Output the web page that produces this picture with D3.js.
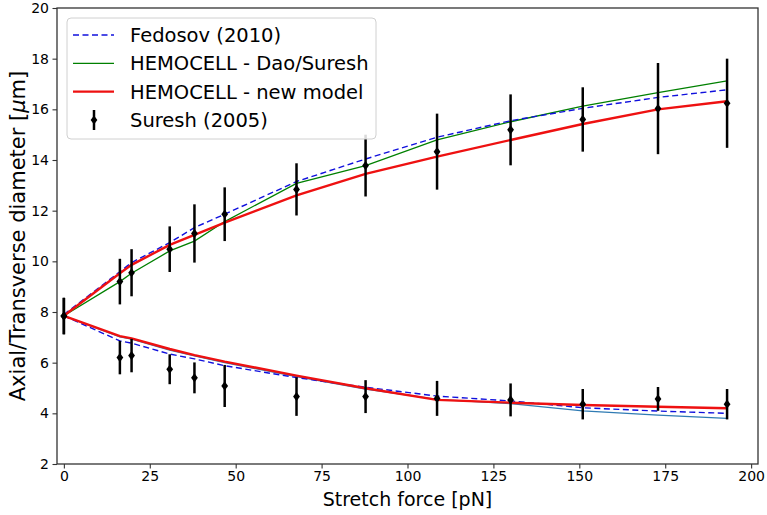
<!DOCTYPE html>
<html><head><meta charset="utf-8">
<script src="https://cdn.jsdelivr.net/npm/d3@7"></script>
<style>body{margin:0;background:#fff}svg{display:block}text{font-family:"DejaVu Sans",sans-serif;fill:#000}</style>
</head><body><svg id="c" width="767" height="515"></svg>
<script>
// Data
const forces = [0, 16.3, 19.7, 30.8, 38, 46.8, 67.7, 87.8, 108.6, 130, 151, 172.9, 193];
const sureshAxial = [7.84, 9.2, 9.55, 10.48, 11.1, 11.86, 12.84, 13.78, 14.33, 15.19, 15.6, 16.03, 16.24];
const sureshAxialErr = [0.72, 0.9, 0.93, 0.9, 1.15, 1.06, 1.03, 1.22, 1.5, 1.4, 1.27, 1.8, 1.76];
const sureshTrans = [7.84, 6.2, 6.28, 5.74, 5.4, 5.08, 4.66, 4.66, 4.59, 4.53, 4.36, 4.57, 4.36];
const sureshTransErr = [0.72, 0.66, 0.66, 0.59, 0.61, 0.83, 0.76, 0.65, 0.69, 0.65, 0.6, 0.47, 0.6];
const fedosovAxial = [7.9, 9.59, 9.95, 10.74, 11.33, 11.86, 13.15, 14.04, 14.9, 15.55, 16.04, 16.47, 16.77];
const fedosovTrans = [7.85, 6.86, 6.77, 6.34, 6.15, 5.88, 5.41, 5.03, 4.68, 4.49, 4.22, 4.09, 4.0];
const daoAxial = [7.85, 9.2, 9.53, 10.41, 10.8, 11.57, 13.08, 13.78, 14.79, 15.51, 16.13, 16.66, 17.12];
const daoTrans = [7.85, 7.02, 6.93, 6.5, 6.27, 6.0, 5.45, 4.96, 4.55, 4.38, 4.1, 3.93, 3.8];
const newAxial = [7.85, 9.53, 9.86, 10.65, 11.04, 11.53, 12.6, 13.45, 14.13, 14.79, 15.42, 16.0, 16.32];
const newTrans = [7.85, 7.05, 6.96, 6.54, 6.3, 6.04, 5.49, 4.99, 4.53, 4.42, 4.33, 4.26, 4.2];
const xTicks = [0, 25, 50, 75, 100, 125, 150, 175, 200];
const yTicks = [2, 4, 6, 8, 10, 12, 14, 16, 18, 20];
const legendLabels = ["Fedosov (2010)", "HEMOCELL - Dao/Suresh", "HEMOCELL - new model", "Suresh (2005)"];

const svg = d3.select("#c");
const m = {l: 57, t: 8, r: 9, b: 51};
const W = 767, H = 515;
const x = d3.scaleLinear().domain([-2, 202]).range([m.l, W - m.r]);
const y = d3.scaleLinear().domain([2, 20]).range([H - m.b, m.t]);
const axisColor = "#333";

const line = d3.line().x(d => x(d[0])).y(d => y(d[1]));
const zip = (a) => forces.map((f, i) => [f, a[i]]);

const g = svg.append("g");
const BLUE = "#1010dd", RED = "#ee1111";
g.append("path").datum(zip(daoAxial)).attr("d", line).attr("fill", "none").attr("stroke", "#008000").attr("stroke-width", 1.3);
g.append("path").datum(zip(daoTrans)).attr("d", line).attr("fill", "none").attr("stroke", "#2f7bb3").attr("stroke-width", 1.3);
g.append("path").datum(zip(fedosovAxial)).attr("d", line).attr("fill", "none").attr("stroke", BLUE).attr("stroke-width", 1.4).attr("stroke-dasharray", "6,3.5");
g.append("path").datum(zip(fedosovTrans)).attr("d", line).attr("fill", "none").attr("stroke", BLUE).attr("stroke-width", 1.4).attr("stroke-dasharray", "6,3.5");
g.append("path").datum(zip(newAxial)).attr("d", line).attr("fill", "none").attr("stroke", RED).attr("stroke-width", 2.4);
g.append("path").datum(zip(newTrans)).attr("d", line).attr("fill", "none").attr("stroke", RED).attr("stroke-width", 2.4);

const diamond = (cx, cy) => `M${cx},${cy-4.6}L${cx+3.4},${cy}L${cx},${cy+4.6}L${cx-3.4},${cy}Z`;
function errs(vals, errv) {
  const eg = g.append("g");
  eg.selectAll("line").data(forces).join("line")
    .attr("x1", d => x(d)).attr("x2", d => x(d))
    .attr("y1", (d, i) => y(vals[i] - errv[i])).attr("y2", (d, i) => y(vals[i] + errv[i]))
    .attr("stroke", "#000").attr("stroke-width", 2.5);
  eg.selectAll("path").data(forces).join("path")
    .attr("d", (d, i) => diamond(x(d), y(vals[i]))).attr("fill", "#000");
}
errs(sureshAxial, sureshAxialErr);
errs(sureshTrans, sureshTransErr);

svg.append("rect").attr("x", m.l).attr("y", m.t).attr("width", W - m.l - m.r).attr("height", H - m.t - m.b)
  .attr("fill", "none").attr("stroke", axisColor).attr("stroke-width", 1.3);

const xAxis = svg.append("g").attr("transform", `translate(0,${H - m.b})`)
  .call(d3.axisBottom(x).tickValues(xTicks).tickSize(4.5).tickPadding(3).tickSizeOuter(0));
const yAxis = svg.append("g").attr("transform", `translate(${m.l},0)`)
  .call(d3.axisLeft(y).tickValues(yTicks).tickSize(4.5).tickPadding(3.5).tickSizeOuter(0));
[xAxis, yAxis].forEach(a => {
  a.select(".domain").remove();
  a.selectAll(".tick line").attr("stroke", axisColor).attr("stroke-width", 1.1);
  a.selectAll(".tick text").attr("font-size", 14).attr("font-family", "DejaVu Sans").attr("fill", "#000");
});

svg.append("text").attr("x", x(100)).attr("y", 506).attr("text-anchor", "middle").attr("font-size", 19).text("Stretch force [pN]");
const yl = svg.append("text").attr("transform", `translate(25,${(m.t + H - m.b) / 2}) rotate(-90)`).attr("text-anchor", "middle").attr("font-size", 21);
yl.append("tspan").text("Axial/Transverse diameter [");
yl.append("tspan").attr("font-style", "italic").text("μ");
yl.append("tspan").text("m]");

const lg = svg.append("g");
lg.append("rect").attr("x", 67).attr("y", 18).attr("width", 309).attr("height", 121).attr("rx", 4)
  .attr("fill", "#fff").attr("fill-opacity", 0.85).attr("stroke", "#d0d0d0").attr("stroke-width", 1);
const rowY = [35, 63.3, 91.6, 120];
const styles = [
  {stroke: BLUE, w: 1.4, dash: "6,3.5"},
  {stroke: "#008000", w: 1.3, dash: null},
  {stroke: RED, w: 2.4, dash: null}
];
styles.forEach((s, i) => {
  lg.append("line").attr("x1", 73).attr("x2", 114).attr("y1", rowY[i]).attr("y2", rowY[i])
    .attr("stroke", s.stroke).attr("stroke-width", s.w).attr("stroke-dasharray", s.dash);
});
lg.append("line").attr("x1", 94).attr("x2", 94).attr("y1", rowY[3] - 10).attr("y2", rowY[3] + 10).attr("stroke", "#000").attr("stroke-width", 2.5);
lg.append("path").attr("d", diamond(94, rowY[3])).attr("fill", "#000");
legendLabels.forEach((t, i) => {
  lg.append("text").attr("x", 130).attr("y", rowY[i]).attr("dy", "0.36em").attr("font-size", 19.5).text(t);
});
</script></body></html>
